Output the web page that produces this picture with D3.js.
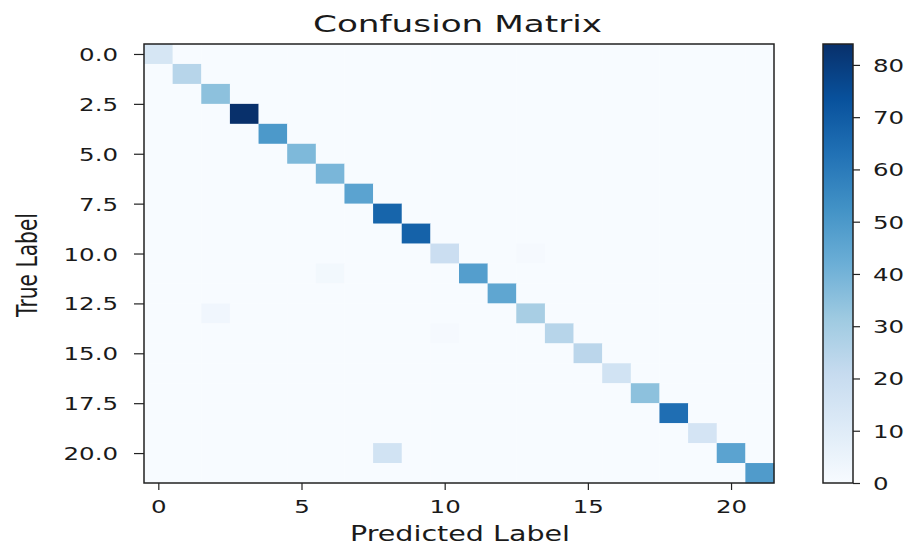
<!DOCTYPE html>
<html>
<head>
<meta charset="utf-8">
<script src="https://cdn.jsdelivr.net/npm/d3@7"></script>
<style>
  html, body { margin: 0; padding: 0; background: #fff; }
  svg { display: block; font-family: "DejaVu Sans", sans-serif; }
</style>
</head>
<body>
<svg id="chart" width="911" height="547"></svg>
<script>
// ---- data ----
const nClasses = 22;
const classIndex = d3.range(nClasses);
// correct predictions per class (diagonal)
const diagonalCounts = [14, 25, 35, 84, 50, 38, 39, 46, 67, 68, 19, 48, 45, 29, 25, 24, 16, 35, 64, 15, 46, 49];
// misclassifications: [true, predicted, count]
const offDiagonal = [
  [20, 8, 16],
  [11, 6, 2],
  [13, 2, 3],
  [14, 10, 1],
  [10, 13, 1]
];
const xTickValues = [0, 5, 10, 15, 20];
const yTickValues = [0, 2.5, 5, 7.5, 10, 12.5, 15, 17.5, 20];
const cbTickValues = [0, 10, 20, 30, 40, 50, 60, 70, 80];
const bluesStops = ["#f7fbff","#deebf7","#c6dbef","#9ecae1","#6baed6","#4292c6","#2171b5","#08519c","#08306b"];

// build matrix table
const matrix = classIndex.map(() => classIndex.map(() => 0));
classIndex.forEach(i => { matrix[i][i] = diagonalCounts[i]; });
offDiagonal.forEach(([t, p, c]) => { matrix[t][p] = c; });
const cells = [];
matrix.forEach((row, r) => row.forEach((v, c) => cells.push({ r, c, v })));
const vmax = d3.max(cells, d => d.v);

// ---- layout ----
const svg = d3.select("#chart");
const ax = { left: 144, right: 774, top: 44, bottom: 483 };
const cb = { left: 823, right: 853, top: 44, bottom: 483 };
const SX = 1.4; // horizontal stretch of text in the reference
const textColor = "#1a1a1a";

const x = d3.scaleLinear().domain([-0.5, nClasses - 0.5]).range([ax.left, ax.right]);
const y = d3.scaleLinear().domain([-0.5, nClasses - 0.5]).range([ax.top, ax.bottom]);
const color = d3.scaleLinear()
  .domain(bluesStops.map((_, i) => vmax * i / (bluesStops.length - 1)))
  .range(bluesStops)
  .interpolate(d3.interpolateRgb);

// cells
svg.append("g").selectAll("rect").data(cells).join("rect")
  .attr("x", d => x(d.c - 0.5))
  .attr("y", d => y(d.r - 0.5))
  .attr("width", d => x(d.c + 0.5) - x(d.c - 0.5) + 0.3)
  .attr("height", d => y(d.r + 0.5) - y(d.r - 0.5) + 0.3)
  .attr("fill", d => color(d.v));

// frame
svg.append("rect")
  .attr("x", ax.left).attr("y", ax.top)
  .attr("width", ax.right - ax.left).attr("height", ax.bottom - ax.top)
  .attr("fill", "none").attr("stroke", "#222").attr("stroke-width", 1.5);

// x axis
const gx = svg.append("g").attr("transform", `translate(0,${ax.bottom})`)
  .call(d3.axisBottom(x).tickValues(xTickValues).tickFormat(d3.format("d")).tickSize(7));
gx.select(".domain").remove();
gx.selectAll(".tick line").attr("stroke", "#222").attr("stroke-width", 1.2);
gx.selectAll(".tick text")
  .attr("y", null).attr("dy", null)
  .attr("transform", `translate(0,30) scale(${SX},1)`)
  .attr("font-size", 17.5).attr("fill", textColor)
  .attr("font-family", "DejaVu Sans");

// y axis
const gy = svg.append("g").attr("transform", `translate(${ax.left},0)`)
  .call(d3.axisLeft(y).tickValues(yTickValues).tickFormat(d3.format(".1f")).tickSize(10));
gy.select(".domain").remove();
gy.selectAll(".tick line").attr("stroke", "#222").attr("stroke-width", 1.2);
gy.selectAll(".tick text")
  .attr("x", null).attr("dy", "0.37em")
  .attr("transform", `translate(-26,0) scale(${SX},1)`)
  .attr("font-size", 17.5).attr("fill", textColor)
  .attr("font-family", "DejaVu Sans");

// colorbar
const defs = svg.append("defs");
const grad = defs.append("linearGradient").attr("id", "cbgrad")
  .attr("x1", 0).attr("y1", 1).attr("x2", 0).attr("y2", 0);
bluesStops.forEach((c, i) => {
  grad.append("stop").attr("offset", i / (bluesStops.length - 1)).attr("stop-color", c);
});
svg.append("rect")
  .attr("x", cb.left).attr("y", cb.top)
  .attr("width", cb.right - cb.left).attr("height", cb.bottom - cb.top)
  .attr("fill", "url(#cbgrad)").attr("stroke", "#222").attr("stroke-width", 1.5);
const cy = d3.scaleLinear().domain([0, vmax]).range([cb.bottom, cb.top]);
const gc = svg.append("g").attr("transform", `translate(${cb.right},0)`)
  .call(d3.axisRight(cy).tickValues(cbTickValues).tickFormat(d3.format("d")).tickSize(7));
gc.select(".domain").remove();
gc.selectAll(".tick line").attr("stroke", "#222").attr("stroke-width", 1.2);
gc.selectAll(".tick text")
  .attr("x", null).attr("dy", "0.37em")
  .attr("transform", `translate(20,0) scale(${SX},1)`)
  .attr("font-size", 17.5).attr("fill", textColor)
  .attr("font-family", "DejaVu Sans");

// title
svg.append("text")
  .attr("x", 457.5).attr("y", 32)
  .attr("text-anchor", "middle")
  .attr("font-size", 23).attr("fill", textColor)
  .attr("textLength", 289).attr("lengthAdjust", "spacingAndGlyphs")
  .text("Confusion Matrix");

// x label
svg.append("text")
  .attr("x", 460).attr("y", 541)
  .attr("text-anchor", "middle")
  .attr("font-size", 20.5).attr("fill", textColor)
  .attr("textLength", 220).attr("lengthAdjust", "spacingAndGlyphs")
  .text("Predicted Label");

// y label
svg.append("text")
  .attr("transform", "translate(37,265) rotate(-90)")
  .attr("text-anchor", "middle")
  .attr("font-size", 29).attr("fill", textColor)
  .attr("textLength", 104).attr("lengthAdjust", "spacingAndGlyphs")
  .text("True Label");
</script>
</body>
</html>
